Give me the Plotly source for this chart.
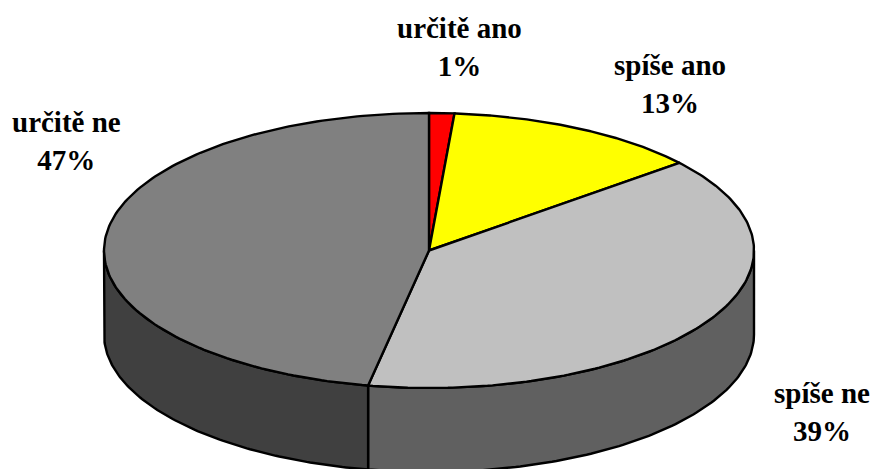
import numpy as np
import plotly.graph_objects as go

categories = ["určitě ano", "spíše ano", "spíše ne", "určitě ne"]
values = [1.25, 12.75, 39, 47]
percent_labels = ["1%", "13%", "39%", "47%"]
top_colors = ["#ff0000", "#ffff00", "#c0c0c0", "#808080"]
side_colors = ["#800000", "#808000", "#606060", "#404040"]
label_x = [459.5, 670, 822, 66]
label_y = [46.5, 83.5, 412, 141]

W, H = 871, 469
CX, CY, RX, RY, DEPTH = 429, 250.5, 325, 137.5, 84
LINE = dict(color="black", width=2.4)


def pt(angle, dy=0.0):
    a = np.radians(angle)
    return CX + RX * np.sin(a), CY - RY * np.cos(a) + dy


fig = go.Figure()
edges = np.cumsum([0] + values) / sum(values) * 360

# side wall (only the front half, clockwise angle 90..270, is visible)
for i, color in enumerate(side_colors):
    lo, hi = max(edges[i], 90), min(edges[i + 1], 270)
    if lo >= hi:
        continue
    t = np.linspace(lo, hi, 120)
    xt, yt = pt(t)
    xb, yb = pt(t[::-1], DEPTH)
    fig.add_trace(go.Scatter(x=np.r_[xt, xb, xt[0]], y=np.r_[yt, yb, yt[0]], mode="lines",
                             fill="toself", fillcolor=color, line=LINE, hoverinfo="skip"))

# top face
for i, color in enumerate(top_colors):
    t = np.linspace(edges[i], edges[i + 1], 160)
    xt, yt = pt(t)
    fig.add_trace(go.Scatter(x=np.r_[CX, xt, CX], y=np.r_[CY, yt, CY], mode="lines",
                             fill="toself", fillcolor=color, line=LINE, hoverinfo="skip"))

for cat, pct, x, y in zip(categories, percent_labels, label_x, label_y):
    fig.add_annotation(x=x, y=y, text=f"<b>{cat}<br>{pct}</b>", showarrow=False, align="center",
                       font=dict(family="Liberation Serif", size=29, color="black"))

fig.update_layout(
    width=W, height=H, autosize=False, showlegend=False,
    margin=dict(l=0, r=0, t=0, b=0), paper_bgcolor="white", plot_bgcolor="white",
    xaxis=dict(range=[0, W], visible=False, fixedrange=True),
    yaxis=dict(range=[H, 0], visible=False, fixedrange=True),
)
fig.write_html("out.html", config=dict(displayModeBar=False),
               post_script="document.body.style.margin='0';document.body.style.overflow='hidden';")
